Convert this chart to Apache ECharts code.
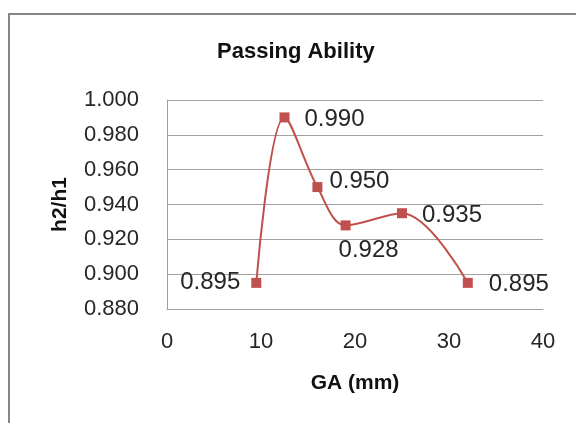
<!DOCTYPE html>
<html>
<head>
<meta charset="utf-8">
<script src="https://cdn.jsdelivr.net/npm/echarts@6/dist/echarts.min.js"></script>
<style>html,body{margin:0;padding:0;background:#fff;}#c{width:576px;height:423px;}</style>
</head>
<body>
<div id="c"></div>
<script>
var gaValues = [9.5, 12.5, 16, 19, 25, 32];
var ratioValues = [0.895, 0.990, 0.950, 0.928, 0.935, 0.895];
var xTicks = [0, 10, 20, 30, 40];
var yTicks = [0.880, 0.900, 0.920, 0.940, 0.960, 0.980, 1.000];

var labelPlacements = [
  {position: 'left', distance: 11, offset: [0, -1]},
  {position: 'right', distance: 15, offset: [0, 2]},
  {position: 'right', distance: 7, offset: [0, -6]},
  {position: 'bottom', distance: 8, offset: [23, 0]},
  {position: 'right', distance: 15, offset: [0, 2]},
  {position: 'right', distance: 16, offset: [0, 1]}
];

var FONT = 'Liberation Sans';
var chart = echarts.init(document.getElementById('c'), null, {renderer: 'canvas'});

var data = gaValues.map(function (x, i) {
  return {
    value: [x, ratioValues[i]],
    label: labelPlacements[i]
  };
});

chart.setOption({
  animation: false,
  backgroundColor: '#ffffff',
  title: {
    text: 'Passing Ability',
    left: 217,
    top: 41,
    padding: 0,
    textStyle: {fontFamily: FONT, fontWeight: 'bold', fontSize: 22, color: '#111111'}
  },
  graphic: [{
    type: 'rect',
    shape: {x: 9, y: 14, width: 620, height: 460},
    style: {fill: null, stroke: '#868686', lineWidth: 2},
    silent: true
  }],
  grid: {left: 167, right: 33, top: 100, bottom: 114, containLabel: false},
  xAxis: {
    type: 'value',
    min: xTicks[0],
    max: xTicks[xTicks.length - 1],
    interval: 10,
    name: 'GA (mm)',
    nameLocation: 'middle',
    nameGap: 64,
    nameTextStyle: {fontFamily: FONT, fontWeight: 'bold', fontSize: 21, color: '#111111'},
    axisLine: {show: true, lineStyle: {color: '#a0a0a0', width: 1}},
    axisTick: {show: false},
    splitLine: {show: false},
    axisLabel: {margin: 22, fontFamily: FONT, fontSize: 22, color: '#262626'}
  },
  yAxis: {
    type: 'value',
    min: yTicks[0],
    max: yTicks[yTicks.length - 1],
    interval: 0.02,
    name: 'h2/h1',
    nameLocation: 'middle',
    nameGap: 96,
    nameRotate: 90,
    nameTextStyle: {fontFamily: FONT, fontWeight: 'bold', fontSize: 21, color: '#111111'},
    axisLine: {show: true, lineStyle: {color: '#a0a0a0', width: 1}},
    axisTick: {show: false},
    splitLine: {show: true, lineStyle: {color: '#a0a0a0', width: 1}},
    axisLabel: {
      margin: 28, fontFamily: FONT, fontSize: 22, color: '#262626',
      formatter: function (v) { return v.toFixed(3); }
    }
  },
  series: [{
    type: 'line',
    data: data,
    smooth: 0.35,
    symbol: 'rect',
    symbolSize: 10,
    lineStyle: {color: '#C0504D', width: 2},
    itemStyle: {color: '#C0504D'},
    label: {
      show: true,
      fontFamily: FONT,
      fontSize: 24,
      color: '#262626',
      formatter: function (p) { return p.value[1].toFixed(3); }
    }
  }]
});
</script>
</body>
</html>
